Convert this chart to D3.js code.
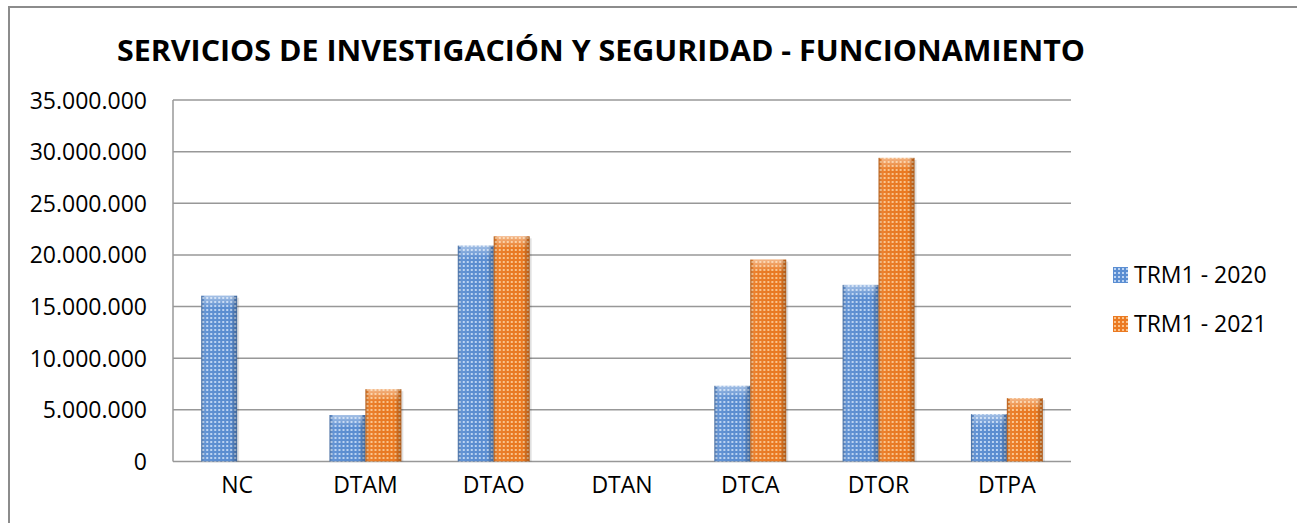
<!DOCTYPE html>
<html>
<head>
<meta charset="UTF-8">
<script src="https://d3js.org/d3.v7.min.js"></script>
<style>
  body { margin: 0; background: #fff; }
  text { font-family: "Open Sans", "Liberation Sans", sans-serif; fill: #000; }
</style>
</head>
<body>
<svg id="chart" width="1297" height="523"></svg>
<script>
// data
var categories = ["NC", "DTAM", "DTAO", "DTAN", "DTCA", "DTOR", "DTPA"];
var seriesNames = ["TRM1 - 2020", "TRM1 - 2021"];
var values2020 = [16050000, 4500000, 20900000, 0, 7330000, 17100000, 4580000];
var values2021 = [0, 7000000, 21800000, 0, 19550000, 29400000, 6130000];
var yTicks = [0, 5000000, 10000000, 15000000, 20000000, 25000000, 30000000, 35000000];

var svg = d3.select("#chart");
var width = 1297, height = 523;
var margin = { top: 100, left: 173, right: 226, bottom: 62 };
var plotRight = width - margin.right;
var plotBottom = height - margin.bottom + 0.5;

// outer frame
svg.append("rect")
  .attr("x", 9).attr("y", 7).attr("width", 1300).attr("height", 540)
  .attr("fill", "none").attr("stroke", "#8c8c8c").attr("stroke-width", 2);

var colors = { "TRM1 - 2020": ["#5b8ed2", "#d4e6fb"], "TRM1 - 2021": ["#eb7a22", "#ffd7a6"] };
var defs = svg.append("defs");
seriesNames.forEach(function(s, i) {
  var p = defs.append("pattern").attr("id", "pat" + i)
    .attr("patternUnits", "userSpaceOnUse").attr("width", 4).attr("height", 4);
  p.append("rect").attr("width", 4).attr("height", 4).attr("fill", colors[s][0]);
  p.append("rect").attr("x", 1).attr("y", 1).attr("width", 2).attr("height", 2)
    .attr("fill", colors[s][1]).attr("opacity", 0.8);
  var g = defs.append("linearGradient").attr("id", "shade" + i).attr("x1", 0).attr("x2", 1).attr("y1", 0).attr("y2", 0);
  g.append("stop").attr("offset", "0%").attr("stop-color", "#000").attr("stop-opacity", 0.25);
  g.append("stop").attr("offset", "12%").attr("stop-color", "#fff").attr("stop-opacity", 0.05);
  g.append("stop").attr("offset", "80%").attr("stop-color", "#000").attr("stop-opacity", 0);
  g.append("stop").attr("offset", "100%").attr("stop-color", "#000").attr("stop-opacity", 0.28);
  var t = defs.append("linearGradient").attr("id", "top" + i).attr("x1", 0).attr("x2", 0).attr("y1", 0).attr("y2", 1);
  t.append("stop").attr("offset", "0%").attr("stop-color", "#fff").attr("stop-opacity", 0.45);
  t.append("stop").attr("offset", "100%").attr("stop-color", "#fff").attr("stop-opacity", 0);
});

var y = d3.scaleLinear().domain([0, 35000000]).range([plotBottom, margin.top]);
var x0 = d3.scaleBand().domain(categories).range([margin.left, plotRight]);
var groupW = x0.bandwidth() * 0.56;
var x1 = d3.scaleBand().domain(seriesNames).range([0, groupW]);

var fmt = function(d) { return d3.format(",")(d).replace(/,/g, "."); };

// gridlines
svg.append("g").selectAll("line").data(yTicks).enter().append("line")
  .attr("x1", margin.left).attr("x2", plotRight)
  .attr("y1", function(d) { return y(d); }).attr("y2", function(d) { return y(d); })
  .attr("stroke", "#989898").attr("stroke-width", 1.5);

// left axis line
svg.append("line").attr("x1", margin.left).attr("x2", margin.left)
  .attr("y1", margin.top).attr("y2", plotBottom)
  .attr("stroke", "#989898").attr("stroke-width", 1.5);

// y labels
var yAxis = d3.axisLeft(y).tickValues(yTicks).tickFormat(fmt).tickSize(0).tickPadding(26);
var ya = svg.append("g").attr("transform", "translate(" + margin.left + ",0)").call(yAxis);
ya.select(".domain").remove();
ya.selectAll("text").style("font-size", "23px").style("font-family", "'Open Sans', sans-serif").attr("dy", "0.35em");

// x labels
var xAxis = d3.axisBottom(x0).tickSize(0).tickPadding(15);
var xa = svg.append("g").attr("transform", "translate(0," + plotBottom + ")").call(xAxis);
xa.select(".domain").remove();
xa.selectAll("text").style("font-size", "23px").style("font-family", "'Open Sans', sans-serif");

// bars
var rows = categories.map(function(c, i) { return { cat: c, vals: [values2020[i], values2021[i]] }; });
var groups = svg.append("g").selectAll("g").data(rows).enter().append("g")
  .attr("transform", function(d) { return "translate(" + (x0(d.cat) + (x0.bandwidth() - groupW) / 2) + ",0)"; });
groups.each(function(d) {
  var g = d3.select(this);
  d.vals.forEach(function(v, i) {
    if (v <= 0) return;
    var bx = x1(seriesNames[i]), bw = x1.bandwidth();
    g.append("rect").attr("x", bx + 2).attr("y", y(v) + 2).attr("width", bw).attr("height", plotBottom - y(v) - 2)
      .attr("fill", "#000").attr("opacity", 0.12);
    g.append("rect").attr("x", bx).attr("y", y(v)).attr("width", bw).attr("height", plotBottom - y(v))
      .attr("fill", "url(#pat" + i + ")");
    g.append("rect").attr("x", bx).attr("y", y(v)).attr("width", bw).attr("height", plotBottom - y(v))
      .attr("fill", "url(#shade" + i + ")");
    g.append("rect").attr("x", bx + 3).attr("y", y(v)).attr("width", bw - 6).attr("height", Math.min(12, plotBottom - y(v)))
      .attr("fill", "url(#top" + i + ")");
  });
});

// title
svg.append("text").attr("x", 601).attr("y", 61).attr("text-anchor", "middle")
  .style("font-size", "28px").style("font-weight", "bold")
  .attr("textLength", 968).attr("lengthAdjust", "spacingAndGlyphs")
  .text("SERVICIOS DE INVESTIGACIÓN Y SEGURIDAD - FUNCIONAMIENTO");

// legend
var leg = svg.append("g").selectAll("g").data(seriesNames).enter().append("g")
  .attr("transform", function(d, i) { return "translate(1113," + (267 + i * 49) + ")"; });
leg.append("rect").attr("width", 15).attr("height", 16).attr("fill", function(d, i) { return "url(#pat" + i + ")"; });
leg.append("text").attr("x", 21).attr("y", 16).style("font-size", "23px").text(function(d) { return d; });
</script>
</body>
</html>
